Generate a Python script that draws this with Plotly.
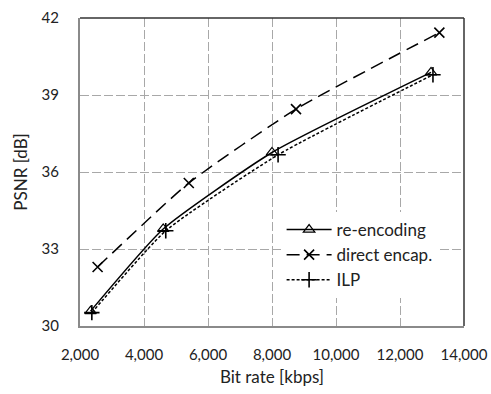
import plotly.graph_objects as go

# Data
reenc_x = [2330, 4600, 8000, 12970]
reenc_y = [30.58, 33.78, 36.76, 39.88]
direct_x = [2550, 5400, 8750, 13230]
direct_y = [32.3, 35.57, 38.45, 41.43]
ilp_x = [2370, 4680, 8190, 13030]
ilp_y = [30.52, 33.71, 36.67, 39.79]

x_ticks = [2000, 4000, 6000, 8000, 10000, 12000, 14000]
x_tick_labels = ["2,000", "4,000", "6,000", "8,000", "10,000", "12,000", "14,000"]
y_ticks = [30, 33, 36, 39, 42]

FONT = "Lato, sans-serif"

fig = go.Figure()
fig.add_trace(go.Scatter(
    x=reenc_x, y=reenc_y, name="re-encoding", mode="lines+markers",
    line=dict(color="black", width=1.5, shape="spline", smoothing=0.5),
    marker=dict(symbol="triangle-up-open", size=10, color="black", line=dict(width=1.2)),
))
fig.add_trace(go.Scatter(
    x=direct_x, y=direct_y, name="direct encap.", mode="lines+markers",
    line=dict(color="black", width=1.5, dash="13px,7px", shape="spline", smoothing=0.5),
    marker=dict(symbol="x-thin-open", size=10, color="black", line=dict(width=1.6, color="black")),
))
fig.add_trace(go.Scatter(
    x=ilp_x, y=ilp_y, name="ILP", mode="lines+markers",
    line=dict(color="black", width=1.5, dash="3px,2px", shape="spline", smoothing=0.5),
    marker=dict(symbol="cross-thin-open", size=11, color="black", line=dict(width=1.6, color="black")),
))

grid = dict(showgrid=True, gridcolor="#a8a8a8", gridwidth=1, griddash="9px,3px")
fig.update_xaxes(
    range=[2000, 14000], tickvals=x_ticks, ticktext=x_tick_labels,
    showline=True, linecolor="#8a8a8a", linewidth=2, ticks="", zeroline=False,
    ticklabelstandoff=14, automargin=False,
    tickfont=dict(family=FONT, size=15, color="#222"),
    title=dict(text="Bit rate [kbps]", font=dict(family=FONT, size=17, color="#222"), standoff=9),
    **grid,
)
fig.update_yaxes(
    range=[30, 42], tickvals=y_ticks,
    showline=True, linecolor="#8a8a8a", linewidth=2, ticks="", zeroline=False,
    ticklabelstandoff=16, automargin=False,
    tickfont=dict(family=FONT, size=15, color="#222"),
    title=dict(text="PSNR [dB]", font=dict(family=FONT, size=17, color="#222"), standoff=10),
    **grid,
)
# top and right frame
fig.add_shape(type="line", xref="paper", yref="paper", x0=0, x1=1, y0=1, y1=1,
              line=dict(color="#333", width=1.5))
fig.add_shape(type="line", xref="paper", yref="paper", x0=1, x1=1, y0=0, y1=1,
              line=dict(color="#333", width=1.5))

fig.update_layout(
    width=491, height=394,
    margin=dict(l=80, r=27, t=18, b=68, autoexpand=False),
    plot_bgcolor="white", paper_bgcolor="white",
    showlegend=True,
    legend=dict(
        x=0.525, y=0.37, xanchor="left", yanchor="top",
        bgcolor="white", borderwidth=0,
        font=dict(family=FONT, size=17, color="#222"),
        tracegroupgap=0, itemwidth=45,
    ),
)

fig.write_html(
    "out.html",
    config={"displayModeBar": False},
    post_script="document.body.style.margin='0';document.body.style.overflow='hidden';",
)
